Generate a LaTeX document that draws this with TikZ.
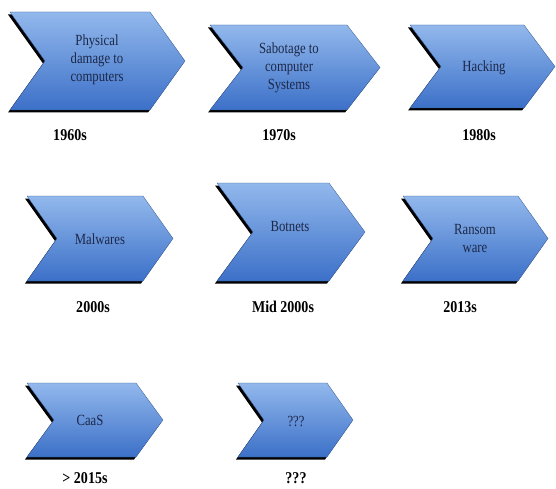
\documentclass[tikz,border=0pt]{standalone}
\usepackage{fontspec}
\setmainfont{Liberation Serif}
\newfontfamily\stagefont[FakeStretch=0.82]{Liberation Serif}
\newfontfamily\yearfont[FakeStretch=0.85]{Liberation Serif}
\definecolor{stagetop}{RGB}{146,184,236}
\definecolor{stagebot}{RGB}{60,112,200}
\definecolor{stageline}{RGB}{52,88,150}
\definecolor{stageink}{RGB}{28,40,72}
\tikzset{
    stagefill/.style={top color=stagetop,bottom color=stagebot,draw=stageline,line width=0.3pt},
    stagetext/.style={font=\stagefont\fontsize{15.5}{18}\selectfont,text=stageink,align=center,inner sep=0pt},
    yearlabel/.style={font=\yearfont\bfseries\fontsize{16.5}{18}\selectfont,inner sep=0pt}
}
% chevron: left, top, tip, bottom, notch depth
\newcommand{\stagearrow}[5]{%
    \pgfmathsetmacro\stgmid{(#2+#4)/2}
    \fill[black,shift={(-2,2.5)}] (#1,#2) -- ({#3-#5},#2) -- (#3,\stgmid) -- ({#3-#5},#4) -- (#1,#4) -- ({#1+#5},\stgmid) -- cycle;
    \shade[stagefill] (#1,#2) -- ({#3-#5},#2) -- (#3,\stgmid) -- ({#3-#5},#4) -- (#1,#4) -- ({#1+#5},\stgmid) -- cycle;
}
\begin{document}
\begin{tikzpicture}[x=1pt,y=-1pt]
    \useasboundingbox[fill=white] (0,0) rectangle (556,489);
    % first row
    \stagearrow{10}{12}{185}{110}{35}
    \stagearrow{210}{25}{380}{110}{33}
    \stagearrow{410}{25}{555}{108}{31}
    \node[stagetext] (physical) at (97,60) {Physical\\damage to\\computers};
    \node[stagetext] (sabotage) at (289,68) {Sabotage to\\computer\\Systems};
    \node[stagetext] (hacking) at (484,68) {Hacking};
    \node[yearlabel] (y1960) at (70,135) {1960s};
    \node[yearlabel] (y1970) at (279,135) {1970s};
    \node[yearlabel] (y1980) at (479,135) {1980s};
    % second row
    \stagearrow{27}{196}{173}{281}{30}
    \stagearrow{217}{183}{365}{281}{36}
    \stagearrow{403}{196}{548}{281}{30}
    \node[stagetext] (malwares) at (100,239) {Malwares};
    \node[stagetext] (botnets) at (290,227) {Botnets};
    \node[stagetext] (ransom) at (475,238) {Ransom\\ware};
    \node[yearlabel] (y2000) at (93,307) {2000s};
    \node[yearlabel] (ymid) at (283,307) {Mid 2000s};
    \node[yearlabel] (y2013) at (460,307) {2013s};
    % third row
    \stagearrow{27}{383}{163}{457}{27}
    \stagearrow{238}{383}{353}{457}{26}
    \node[stagetext] (caas) at (90,420) {CaaS};
    \node[stagetext] (unknown) at (296,421) {???};
    \node[yearlabel] (y2015) at (85,478) {> 2015s};
    \node[yearlabel] (ynext) at (296,478) {???};
\end{tikzpicture}
\end{document}
